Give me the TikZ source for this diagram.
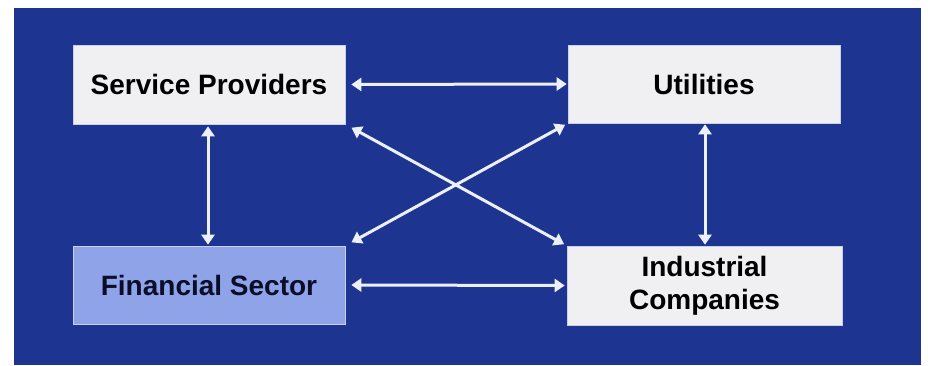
\documentclass[tikz,border=0pt]{standalone}
\usepackage{fontspec}
\setmainfont{Liberation Sans}
\usetikzlibrary{arrows.meta}
\definecolor{panel}{RGB}{30,52,145}
\definecolor{boxgray}{RGB}{240,240,242}
\definecolor{boxblue}{RGB}{143,163,232}
\definecolor{boxline}{RGB}{200,208,236}
\definecolor{arrowcol}{RGB}{236,240,250}
\definecolor{darktext}{RGB}{10,14,40}
\tikzset{
  party/.style={draw=boxline, line width=0.6pt, fill=boxgray, text=black,
    font=\fontsize{28}{33}\selectfont\bfseries, align=center,
    inner sep=0pt},
  link/.style={draw=arrowcol, line width=3pt,
    {Triangle[length=10pt,width=13pt]}-{Triangle[length=10pt,width=13pt]}}
}
\begin{document}
\begin{tikzpicture}[x=1pt,y=1pt]
\useasboundingbox (0,0) rectangle (933,366);
\fill[white] (0,0) rectangle (933,366);
\fill[panel] (14,1) rectangle (921,358);

\node[party, minimum width=272pt, minimum height=79pt] (sp) at (209,281.5) {Service Providers};
\node[party, minimum width=272pt, minimum height=78pt] (ut) at (704,282) {Utilities};
\node[party, fill=boxblue, text=darktext, minimum width=272pt, minimum height=78pt] (fs) at (209,81) {Financial Sector};
\node[party, minimum width=275pt, minimum height=79pt] (ic) at (704.5,80.5) {Industrial\\Companies};

\draw[link, shorten <=6pt, shorten >=1pt] (sp.east) -- (ut.west);
\draw[link, shorten <=6pt, shorten >=2pt] (fs.east) -- (ic.west);
\draw[link, shorten <=2pt, shorten >=1pt] (sp.south -| 208,0) -- (fs.north -| 208,0);
\draw[link, shorten <=1pt, shorten >=1pt] (ut.south -| 705,0) -- (ic.north -| 705,0);
\draw[link, shorten <=7pt, shorten >=3pt] (sp.south east) -- (ic.north west);
\draw[link, shorten <=3pt, shorten >=7pt] (ut.south west) -- (fs.north east);
\end{tikzpicture}
\end{document}
